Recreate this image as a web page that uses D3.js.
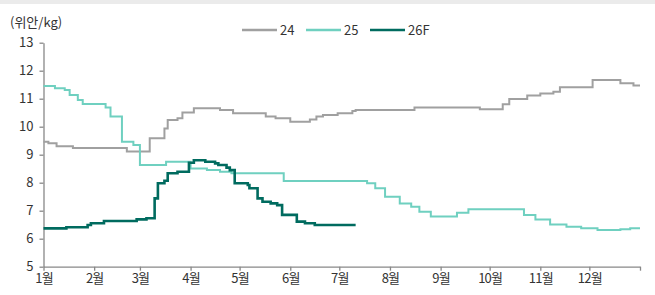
<!DOCTYPE html>
<html>
<head>
<meta charset="utf-8">
<script src="https://cdn.jsdelivr.net/npm/d3@7"></script>
<style>
  body { margin: 0; background: #fff; }
  svg text { font-family: "Noto Sans CJK KR", "Noto Sans", sans-serif; }
</style>
</head>
<body>
<div id="chart"></div>
<script>
// month starts (day of year) and labels
var monthDays = [0, 31, 59, 90, 120, 151, 181, 212, 243, 273, 304, 334, 365];
var monthLabels = ["1월", "2월", "3월", "4월", "5월", "6월", "7월", "8월", "9월", "10월", "11월", "12월"];
var yTicks = [5, 6, 7, 8, 9, 10, 11, 12, 13];

// [day of year, 위안/kg]
var s24 = [[0,9.46],[3,9.41],[8,9.30],[18,9.24],[51,9.11],[65,9.59],[74,9.94],[76,10.24],[82,10.30],[85,10.51],[92,10.66],
  [108,10.60],[116,10.48],[136,10.36],[142,10.30],[151,10.18],[163,10.26],[167,10.36],[171,10.42],[180,10.48],[189,10.56],
  [191,10.60],[227,10.69],[267,10.62],[281,10.80],[285,10.99],[296,11.11],[304,11.19],[312,11.25],[316,11.41],
  [336,11.67],[353,11.55],[361,11.47],[365,11.47]];
var s25 = [[0,11.45],[7,11.37],[13,11.31],[16,11.13],[21,10.95],[24,10.81],[38,10.69],[41,10.36],[48,9.46],[55,9.35],
  [59,8.63],[75,8.75],[90,8.51],[100,8.45],[108,8.39],[115,8.34],[147,8.06],[198,7.98],[203,7.80],[209,7.50],[218,7.26],
  [225,7.14],[230,6.96],[237,6.79],[253,6.93],[260,7.05],[294,6.85],[301,6.69],[310,6.51],[320,6.43],[329,6.37],
  [339,6.31],[353,6.34],[359,6.37],[365,6.37]];
var s26F = [[0,6.37],[14,6.41],[27,6.49],[29,6.55],[37,6.63],[57,6.69],[63,6.73],[68,7.44],[70,7.98],[74,8.07],[76,8.34],
  [82,8.39],[89,8.71],[92,8.80],[99,8.75],[105,8.69],[107,8.63],[112,8.54],[114,8.45],[117,7.98],[125,7.92],[126,7.80],
  [131,7.44],[134,7.32],[139,7.26],[143,7.20],[146,6.85],[155,6.61],[160,6.55],[166,6.49],[191,6.49]];

var seriesNames = ["24", "25", "26F"];
var seriesColors = ["#a0a0a0", "#6fd0c0", "#006b5f"];
var seriesWidths = [2, 2, 2.6];

var width = 655, height = 295;

var svg = d3.select("#chart").append("svg")
    .attr("width", width)
    .attr("height", height);

// top grey strip
svg.append("rect").attr("x", 0).attr("y", 0).attr("width", width).attr("height", 4).attr("fill", "#ebebeb");

var x = d3.scaleLinear().domain([0, 365]).range([43.5, 640]);
var y = d3.scaleLinear().domain([5, 13]).range([266.7, 42.7]);

// y axis
var yAxis = svg.append("g")
    .attr("transform", "translate(43.5,0)")
    .call(d3.axisLeft(y).tickValues(yTicks).tickSize(4).tickSizeOuter(0));
yAxis.selectAll("text").attr("font-size", 13).attr("fill", "#333").attr("x", -10);

// x axis
var xAxis = svg.append("g")
    .attr("transform", "translate(0,266.7)")
    .call(d3.axisBottom(x).tickValues(monthDays).tickSize(4).tickSizeOuter(0)
        .tickFormat(function(d, i) { return monthLabels[i] || ""; }));
xAxis.selectAll("text").attr("font-size", 13).attr("fill", "#333").attr("y", 7).attr("letter-spacing", "-0.8");

svg.selectAll(".domain, .tick line").attr("stroke", "#888").attr("stroke-width", 1.3);

// unit label
svg.append("text").attr("x", 10).attr("y", 27).attr("font-size", 13).attr("fill", "#333").text("(위안/kg)");

// lines
var line = d3.line()
    .x(function(d) { return x(d[0]); })
    .y(function(d) { return y(d[1]); })
    .curve(d3.curveStepAfter);

[s24, s25, s26F].forEach(function(s, i) {
    svg.append("path")
        .datum(s)
        .attr("fill", "none")
        .attr("stroke", seriesColors[i])
        .attr("stroke-width", seriesWidths[i])
        .attr("d", line);
});

// legend
var legendX = [242, 306, 370];
seriesNames.forEach(function(n, i) {
    var g = svg.append("g").attr("transform", "translate(" + legendX[i] + ",30)");
    g.append("line").attr("x1", 0).attr("x2", 35).attr("y1", 0).attr("y2", 0)
        .attr("stroke", seriesColors[i]).attr("stroke-width", 2.5);
    g.append("text").attr("x", 38).attr("y", 5).attr("font-size", 13).attr("fill", "#333").text(n);
});
</script>
</body>
</html>
